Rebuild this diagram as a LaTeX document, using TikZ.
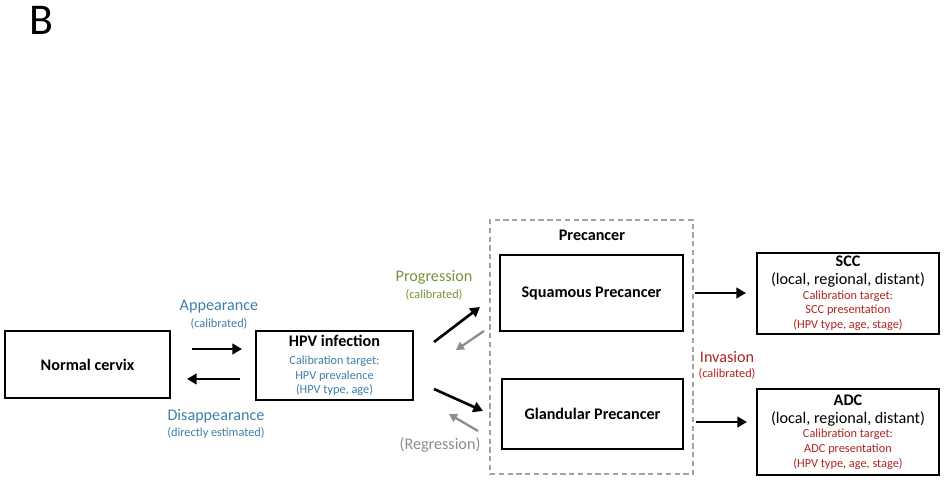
\documentclass[tikz,border=0pt]{standalone}
\usepackage{fontspec}
\setmainfont{Carlito}
\usetikzlibrary{arrows.meta}
\usepackage{xcolor}

\definecolor{ratecol}{RGB}{62,126,168}
\definecolor{progcol}{RGB}{118,146,60}
\definecolor{invcol}{RGB}{175,35,35}
\definecolor{regcol}{RGB}{140,140,140}

\newcommand{\titlefont}{\bfseries\fontsize{9.2}{11}\selectfont}
\newcommand{\ratefont}{\fontsize{9.2}{11}\selectfont}
\newcommand{\notefont}{\fontsize{7}{8}\selectfont}

\tikzset{
  statebox/.style={draw, line width=0.85pt, align=center, inner sep=0pt},
  flow/.style={-{Triangle[length=5.5pt,width=6pt]}, line width=1.5pt},
  backflow/.style={-{Triangle[length=4.5pt,width=5pt]}, line width=1.3pt, draw=regcol},
  ratelabel/.style={font=\ratefont},
  notelabel/.style={font=\notefont}
}

\begin{document}
\begin{tikzpicture}[x=0.02cm,y=-0.02cm]
                \useasboundingbox (0,0) rectangle (944,480);

                \node[font=\fontsize{25}{28}\selectfont] (panel) at (41,20) {B};

                % states
                \node[statebox, minimum width=3.3cm, minimum height=1.34cm, font=\titlefont] (normal) at (87.5,364.5) {Normal cervix};
                \node[statebox, minimum width=3.14cm, minimum height=1.38cm, font=\notefont] (hpv) at (334.5,365.5)
                        {{\titlefont HPV infection}\\[2pt]
                         \textcolor{ratecol}{Calibration target:}\\[0.6pt]
                         \textcolor{ratecol}{HPV prevalence}\\[0.3pt]
                         \textcolor{ratecol}{(HPV type, age)}};

                \node[draw=regcol!80, dash pattern=on 3pt off 2pt, line width=0.6pt, minimum width=4.06cm, minimum height=5.08cm] (precancer) at (591.5,347) {};
                \node[font=\titlefont] (preclbl) at (592,235) {Precancer};
                \node[statebox, minimum width=3.66cm, minimum height=1.52cm, font=\titlefont] (squam) at (591.5,293) {Squamous Precancer};
                \node[statebox, minimum width=3.62cm, minimum height=1.4cm, font=\titlefont] (gland) at (592.5,414) {Glandular Precancer};

                \node[statebox, minimum width=3.64cm, minimum height=1.62cm, font=\notefont] (scc) at (848,293.5)
                        {{\titlefont SCC}\\[2.3pt]
                         {\ratefont (local, regional, distant)}\\[0.2pt]
                         \textcolor{invcol}{Calibration target:}\\[0.1pt]
                         \textcolor{invcol}{SCC presentation}\\[0.6pt]
                         \textcolor{invcol}{(HPV type, age, stage)}};
                \node[statebox, minimum width=3.64cm, minimum height=1.72cm, font=\notefont] (adc) at (848,432)
                        {{\titlefont ADC}\\[2.3pt]
                         {\ratefont (local, regional, distant)}\\[0.2pt]
                         \textcolor{invcol}{Calibration target:}\\[0.1pt]
                         \textcolor{invcol}{ADC presentation}\\[0.6pt]
                         \textcolor{invcol}{(HPV type, age, stage)}};

                % arrow ends
                \coordinate (appA) at (192,349);
                \coordinate (appB) at (242,349);
                \coordinate (disA) at (240,379);
                \coordinate (disB) at (187,379);
                \coordinate (progA) at (434,342);
                \coordinate (progB) at (480,307);
                \coordinate (regA) at (484,331);
                \coordinate (regB) at (456,350);
                \coordinate (progC) at (434,389);
                \coordinate (progD) at (483,411);
                \coordinate (regC) at (478,431);
                \coordinate (regD) at (449,414);
                \coordinate (invA) at (695,293);
                \coordinate (invB) at (746,293);
                \coordinate (invC) at (696,422);
                \coordinate (invD) at (747,422);

                \draw[flow] (appA) -- (appB);
                \draw[flow] (disA) -- (disB);
                \draw[flow] (progA) -- (progB);
                \draw[flow] (progC) -- (progD);
                \draw[backflow] (regA) -- (regB);
                \draw[backflow] (regC) -- (regD);
                \draw[flow] (invA) -- (invB);
                \draw[flow] (invC) -- (invD);

                % rates
                \node[ratelabel, text=ratecol] (applbl) at (219,307) {Appearance};
                \node[notelabel, text=ratecol] (appnote) at (219,324) {(calibrated)};
                \node[ratelabel, text=ratecol] (dislbl) at (216,416) {Disappearance};
                \node[notelabel, text=ratecol] (disnote) at (216,433) {(directly estimated)};
                \node[ratelabel, text=progcol] (proglbl) at (434,277) {Progression};
                \node[notelabel, text=progcol] (prognote) at (434,295) {(calibrated)};
                \node[ratelabel, text=regcol] (reglbl) at (440,445) {(Regression)};
                \node[ratelabel, text=invcol] (invlbl) at (727,357) {Invasion};
                \node[notelabel, text=invcol] (invnote) at (727,374) {(calibrated)};

            \end{tikzpicture}
\end{document}
